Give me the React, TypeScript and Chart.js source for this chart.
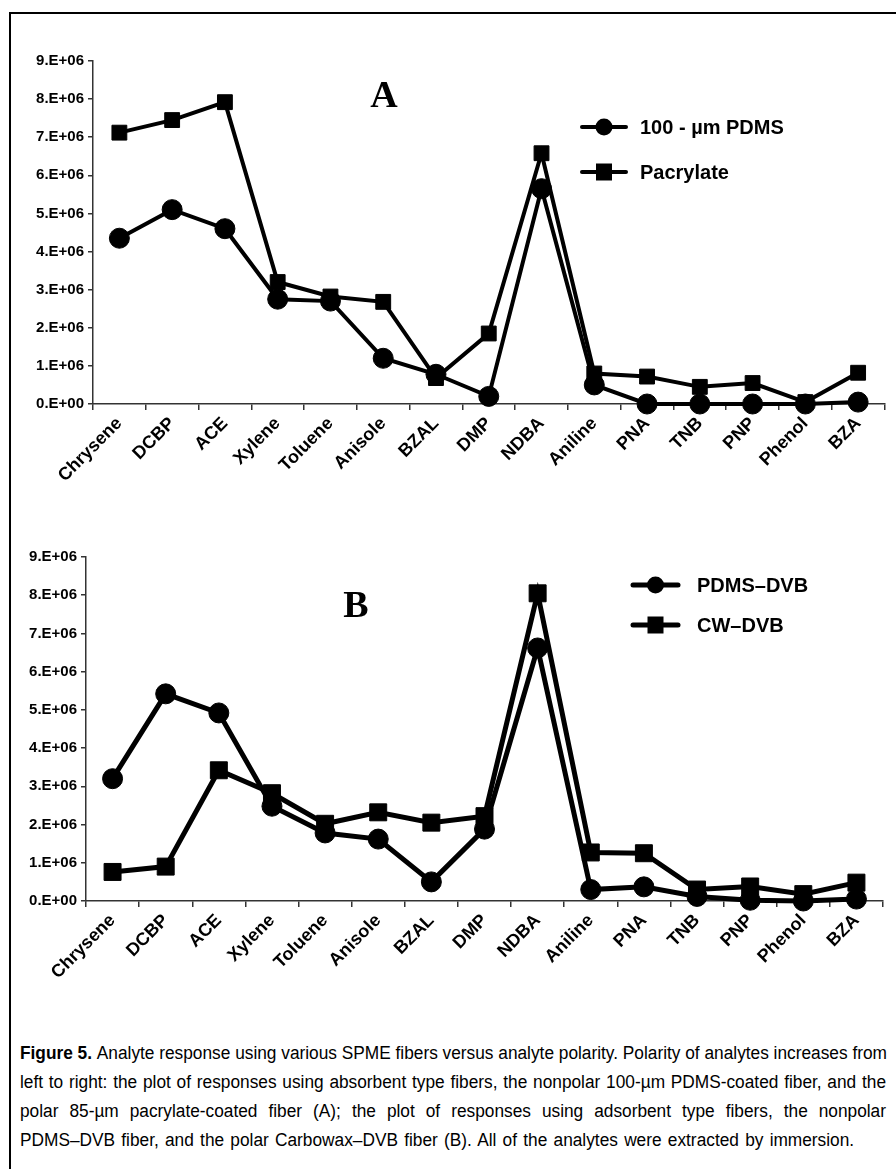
import React, { useEffect, useRef } from 'react';
import { Chart, registerables } from 'chart.js';

Chart.register(...registerables);

const categories = ['Chrysene', 'DCBP', 'ACE', 'Xylene', 'Toluene', 'Anisole', 'BZAL', 'DMP', 'NDBA', 'Aniline', 'PNA', 'TNB', 'PNP', 'Phenol', 'BZA'];
const yTickLabels = ['0.E+00', '1.E+06', '2.E+06', '3.E+06', '4.E+06', '5.E+06', '6.E+06', '7.E+06', '8.E+06', '9.E+06'];

// Panel A
const pdms100 = [4.35e6, 5.1e6, 4.6e6, 2.75e6, 2.7e6, 1.2e6, 0.78e6, 0.2e6, 5.65e6, 0.5e6, 0.0, 0.0, 0.0, 0.0, 0.05e6];
const pacrylate = [7.12e6, 7.45e6, 7.92e6, 3.2e6, 2.82e6, 2.68e6, 0.68e6, 1.85e6, 6.58e6, 0.8e6, 0.72e6, 0.45e6, 0.55e6, 0.05e6, 0.82e6];
// Panel B
const pdmsDvb = [3.2e6, 5.42e6, 4.92e6, 2.48e6, 1.78e6, 1.62e6, 0.5e6, 1.88e6, 6.62e6, 0.3e6, 0.37e6, 0.12e6, 0.02e6, 0.0, 0.05e6];
const cwDvb = [0.76e6, 0.9e6, 3.42e6, 2.82e6, 2.02e6, 2.32e6, 2.05e6, 2.22e6, 8.05e6, 1.27e6, 1.25e6, 0.3e6, 0.38e6, 0.18e6, 0.48e6];

const seriesLabelsA = ['100 - µm PDMS', 'Pacrylate'];
const seriesLabelsB = ['PDMS–DVB', 'CW–DVB'];

const captionLines = [
  'Analyte response using various SPME fibers versus analyte polarity. Polarity of analytes increases from',
  'left to right: the plot of responses using absorbent type fibers, the nonpolar 100-µm PDMS-coated fiber, and the',
  'polar 85-µm pacrylate-coated fiber (A); the plot of responses using adsorbent type fibers, the nonpolar',
  'PDMS–DVB fiber, and the polar Carbowax–DVB fiber (B). All of the analytes were extracted by immersion.',
];

const SANS = '"Liberation Sans", Arial, Helvetica, sans-serif';

const overlayPlugin = {
  id: 'overlay',
  afterDatasetsDraw(chart: any, _args: any, opts: any) {
    const ctx = chart.ctx;
    ctx.save();
    ctx.fillStyle = '#000';
    ctx.font = 'bold 38px "Liberation Serif", "Times New Roman", serif';
    ctx.textAlign = 'center';
    ctx.textBaseline = 'middle';
    ctx.fillText(opts.letter, opts.letterX, opts.letterY);

    chart.data.datasets.forEach((ds: any, i: number) => {
      const y = opts.legendY + i * opts.legendGap;
      const x0 = opts.legendX;
      const x1 = x0 + opts.lineLen;
      const cx = (x0 + x1) / 2;
      ctx.strokeStyle = '#000';
      ctx.lineWidth = opts.lineWidth;
      ctx.lineCap = 'round';
      ctx.beginPath();
      ctx.moveTo(x0, y);
      ctx.lineTo(x1, y);
      ctx.stroke();
      ctx.beginPath();
      if (ds.pointStyle === 'circle') {
        ctx.arc(cx, y, 8.5, 0, Math.PI * 2);
      } else {
        ctx.rect(cx - 8, y - 8.5, 16, 17);
      }
      ctx.fill();
      ctx.font = `bold ${opts.legendFont}px ${SANS}`;
      ctx.textAlign = 'left';
      ctx.textBaseline = 'middle';
      ctx.fillText(ds.label, opts.textX, y + 1);
    });
    ctx.restore();
  },
};

type PanelProps = {
  top: number;
  height: number;
  width: number;
  padTop: number;
  padRight: number;
  yWidth: number;
  xHeight: number;
  labels: string[];
  series: number[][];
  styles: string[];
  radii: number[];
  lineWidth: number;
  overlay: any;
};

function Panel(p: PanelProps) {
  const ref = useRef<HTMLCanvasElement>(null);
  useEffect(() => {
    if (!ref.current) return;
    const chart = new Chart(ref.current, {
      type: 'line',
      data: {
        labels: categories,
        datasets: p.series.map((s, i) => ({
          label: p.labels[i],
          data: s,
          borderColor: '#000',
          backgroundColor: '#000',
          borderWidth: p.lineWidth,
          pointStyle: p.styles[i],
          pointRadius: p.radii[i],
          pointBorderWidth: 1,
          pointBackgroundColor: '#000',
          pointBorderColor: '#000',
          tension: 0,
          clip: false as any,
        })),
      },
      options: {
        animation: false,
        responsive: false,
        layout: { padding: { top: p.padTop, right: p.padRight, left: 0, bottom: 0 } },
        plugins: {
          legend: { display: false },
          tooltip: { enabled: false },
          overlay: { ...p.overlay, lineWidth: p.lineWidth },
        } as any,
        scales: {
          x: {
            type: 'category',
            offset: true,
            afterFit: (s: any) => { s.height = p.xHeight; },
            grid: { offset: true, drawOnChartArea: false, drawTicks: true, tickLength: 6, color: '#333', lineWidth: 1.5 },
            border: { display: true, color: '#333', width: 1.5 },
            ticks: {
              autoSkip: false,
              minRotation: 45,
              maxRotation: 45,
              color: '#000',
              padding: 3,
              font: { family: SANS, size: 18, weight: 'bold' },
            },
          },
          y: {
            min: 0,
            max: 9e6,
            afterFit: (s: any) => { s.width = p.yWidth; },
            grid: { drawOnChartArea: false, drawTicks: true, tickLength: 5, color: '#333', lineWidth: 1.5 },
            border: { display: true, color: '#333', width: 1.5 },
            ticks: {
              stepSize: 1e6,
              color: '#000',
              padding: 4,
              font: { family: SANS, size: 15, weight: 'bold' },
              callback: (_v: any, i: number) => yTickLabels[i],
            },
          },
        },
      },
      plugins: [overlayPlugin],
    });
    return () => chart.destroy();
  }, []);
  return (
    <canvas
      ref={ref}
      width={p.width}
      height={p.height}
      style={{ position: 'absolute', left: 0, top: p.top, width: p.width, height: p.height }}
    />
  );
}

const CAP_SCALE = 0.96;

export default function App() {
  return (
    <div style={{ position: 'absolute', left: 0, top: 0, width: 896, height: 1169, background: '#fff', overflow: 'hidden' }}>
      <div style={{ position: 'absolute', left: 9, top: 12, width: 900, height: 1200, borderLeft: '2px solid #000', borderTop: '2px solid #000' }} />
      <Panel
        top={0}
        height={530}
        width={896}
        padTop={61}
        padRight={3}
        yWidth={93}
        xHeight={126}
        labels={seriesLabelsA}
        series={[pdms100, pacrylate]}
        styles={['circle', 'rect']}
        radii={[10, 10.5]}
        lineWidth={4}
        overlay={{ letter: 'A', letterX: 384, letterY: 97, legendX: 582, lineLen: 44, legendY: 127, legendGap: 45, textX: 640, legendFont: 20 }}
      />
      <Panel
        top={530}
        height={500}
        width={896}
        padTop={27}
        padRight={10}
        yWidth={86}
        xHeight={129}
        labels={seriesLabelsB}
        series={[pdmsDvb, cwDvb]}
        styles={['circle', 'rect']}
        radii={[10, 12]}
        lineWidth={5}
        overlay={{ letter: 'B', letterX: 356, letterY: 77, legendX: 633, lineLen: 45, legendY: 55, legendGap: 40, textX: 697, legendFont: 20 }}
      />
      <div
        style={{
          position: 'absolute',
          left: 20,
          top: 1039,
          width: 866 / CAP_SCALE,
          transform: `scaleX(${CAP_SCALE})`,
          transformOrigin: '0 0',
          fontFamily: SANS,
          fontSize: 18,
          lineHeight: '29px',
          color: '#000',
        }}
      >
        {captionLines.map((line, i) => {
          const last = i === captionLines.length - 1;
          return (
            <div
              key={i}
              style={{
                whiteSpace: 'nowrap',
                textAlign: last ? 'left' : 'justify',
                textAlignLast: last ? 'left' : 'justify',
                wordSpacing: last ? '1.5px' : undefined,
              }}
            >
              {i === 0 ? <b>Figure 5. </b> : null}
              {line}
            </div>
          );
        })}
      </div>
    </div>
  );
}
